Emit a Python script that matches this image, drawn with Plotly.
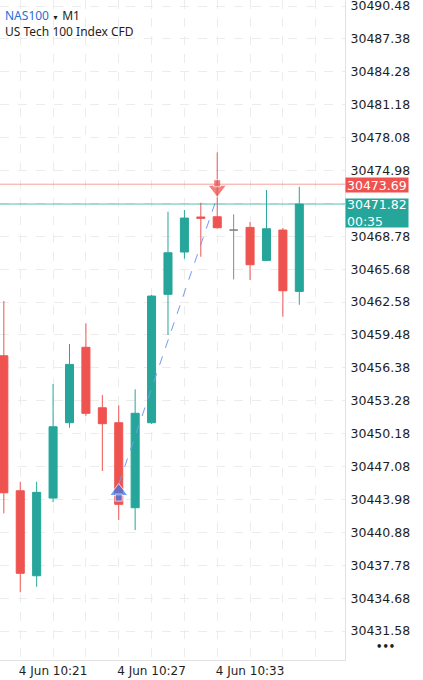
import plotly.graph_objects as go

# ---------------- data ----------------
times = ["2024-06-04 10:%02d" % m for m in range(18, 37)]
opens = [30457.52, 30444.80, 30436.79, 30444.11, 30451.21, 30458.32, 30452.62, 30451.21,
         30443.20, 30451.21, 30463.31, 30467.30, 30470.60, 30470.62, 30469.37, 30469.62,
         30466.51, 30469.37, 30463.59]
highs = [30462.68, 30445.65, 30445.65, 30454.86, 30458.63, 30460.58, 30453.82, 30452.85,
         30454.36, 30463.25, 30471.10, 30471.26, 30471.94, 30476.69, 30470.85, 30470.12,
         30473.14, 30469.56, 30473.45]
lows = [30442.67, 30435.23, 30435.75, 30443.71, 30450.74, 30451.87, 30446.66, 30442.04,
        30441.10, 30451.10, 30459.48, 30466.67, 30466.85, 30469.50, 30464.72, 30464.66,
        30466.45, 30461.20, 30462.33]
closes = [30444.61, 30437.02, 30444.65, 30450.83, 30456.71, 30452.10, 30451.12, 30443.52,
          30452.10, 30463.15, 30467.23, 30470.50, 30470.48, 30469.59, 30469.37, 30466.10,
          30469.49, 30463.65, 30471.82]

y_tick_values = [30431.58, 30434.68, 30437.78, 30440.88, 30443.98, 30447.08, 30450.18,
                 30453.28, 30456.38, 30459.48, 30462.58, 30465.68, 30468.78, 30471.88,
                 30474.98, 30478.08, 30481.18, 30484.28, 30487.38, 30490.48]
x_grid_times = ["2024-06-04 10:%02d" % m for m in range(19, 38, 2)]
x_label_times = {"2024-06-04 10:21": "4 Jun 10:21",
                 "2024-06-04 10:27": "4 Jun 10:27",
                 "2024-06-04 10:33": "4 Jun 10:33"}

ask_price = 30473.69
bid_price = 30471.82
countdown = "00:35"
entry_time, entry_price = "2024-06-04 10:25", 30445.43
exit_time, exit_price = "2024-06-04 10:31", 30472.51

symbol = "NAS100"
timeframe = "M1"
description = "US Tech 100 Index CFD"

# ---------------- styling ----------------
UP = "#26a69a"
DOWN = "#ef5350"
FLAT = "#8a8a8a"
W, H = 423, 680
ML, MR, MT, MB = 0, 78, 0, 20
x_range = ["2024-06-04 10:17:46", "2024-06-04 10:38:47"]
y_range = [30428.85, 30491.05]
plot_h = H - MT - MB
unit_per_px = (y_range[1] - y_range[0]) / plot_h
FONT = "DejaVu Sans"

fig = go.Figure()

# regular candles
idx = [i for i in range(len(times)) if opens[i] != closes[i]]
fig.add_trace(go.Candlestick(
    x=[times[i] for i in idx], open=[opens[i] for i in idx], high=[highs[i] for i in idx],
    low=[lows[i] for i in idx], close=[closes[i] for i in idx],
    increasing=dict(line=dict(color=UP, width=1), fillcolor=UP),
    decreasing=dict(line=dict(color=DOWN, width=1), fillcolor=DOWN),
    whiskerwidth=0, showlegend=False, hoverinfo="skip"))
# unchanged (doji) candles
idx0 = [i for i in range(len(times)) if opens[i] == closes[i]]
fig.add_trace(go.Candlestick(
    x=[times[i] for i in idx0], open=[opens[i] for i in idx0], high=[highs[i] for i in idx0],
    low=[lows[i] for i in idx0], close=[closes[i] for i in idx0],
    increasing=dict(line=dict(color=FLAT, width=1), fillcolor=FLAT),
    decreasing=dict(line=dict(color=FLAT, width=1), fillcolor=FLAT),
    whiskerwidth=0, showlegend=False, hoverinfo="skip"))

# trade connection line
fig.add_trace(go.Scatter(x=[entry_time, exit_time], y=[entry_price, exit_price], mode="lines",
                         line=dict(color="#6f9cf0", width=1, dash="dash"),
                         showlegend=False, hoverinfo="skip"))

# entry arrow (up, blue) : tip at entry price
BLUE = "#2f7bf5"
fig.add_trace(go.Scatter(
    x=[entry_time, entry_time],
    y=[entry_price - 7.5 * unit_per_px, entry_price - 13.5 * unit_per_px],
    mode="markers",
    marker=dict(symbol=["triangle-up", "square"], size=[16, 7], color=BLUE,
                line=dict(color="white", width=1)),
    showlegend=False, hoverinfo="skip"))
# exit arrow (down, red) : tip at exit price
fig.add_trace(go.Scatter(
    x=[exit_time, exit_time],
    y=[exit_price + 7.5 * unit_per_px, exit_price + 13.5 * unit_per_px],
    mode="markers",
    marker=dict(symbol=["triangle-down", "square"], size=[16, 7], color="#ee4a47",
                line=dict(color="white", width=1)),
    showlegend=False, hoverinfo="skip"))

# price lines
fig.add_shape(type="line", xref="paper", x0=0, x1=1, yref="y", y0=ask_price, y1=ask_price,
              line=dict(color="rgba(239,83,80,0.55)", width=1))
fig.add_shape(type="line", xref="paper", x0=0, x1=1, yref="y", y0=bid_price, y1=bid_price,
              line=dict(color="rgba(38,166,154,0.75)", width=1))

# axis tick labels (hide ones covered by price boxes)
y_text = []
for v in y_tick_values:
    covered = abs(v - bid_price) < 1.5 or abs(v - ask_price) < 0.8
    y_text.append("" if covered else "%.2f" % v)

fig.update_layout(
    width=W, height=H, margin=dict(l=ML, r=MR, t=MT, b=MB),
    paper_bgcolor="white", plot_bgcolor="white",
    font=dict(family=FONT, color="#1e1e1e"),
    xaxis=dict(type="date", range=x_range, rangeslider=dict(visible=False),
               tickvals=x_grid_times,
               ticktext=[x_label_times.get(t, "") for t in x_grid_times],
               showgrid=True, gridcolor="#ececec", griddash="dash", gridwidth=1,
               showline=True, linecolor="#e2e2e2", linewidth=1, ticks="",
               tickfont=dict(family=FONT, size=12, color="#1e1e1e"),
               ticklabeloverflow="allow", automargin=False,
               zeroline=False, fixedrange=True),
    yaxis=dict(range=y_range, side="right", tickvals=y_tick_values, ticktext=y_text,
               showgrid=True, gridcolor="#ececec", griddash="dash", gridwidth=1,
               showline=True, linecolor="#e2e2e2", linewidth=1, ticks="",
               tickfont=dict(family=FONT, size=12.5, color="#1e1e1e"),
               ticklabeloverflow="allow", ticklabelstandoff=2, automargin=False,
               zeroline=False, fixedrange=True),
    hovermode=False,
)

# price label boxes
fig.add_annotation(xref="paper", x=1, xanchor="left", xshift=0, yref="y", y=ask_price,
                   yanchor="middle", yshift=-1, text="%.2f" % ask_price, showarrow=False,
                   bgcolor=DOWN, font=dict(family=FONT, size=12.5, color="white"),
                   width=60, height=12, align="left", borderpad=1)
fig.add_annotation(xref="paper", x=1, xanchor="left", xshift=0, yref="y", y=bid_price,
                   yanchor="top", yshift=6, text="%.2f<br>%s" % (bid_price, countdown),
                   showarrow=False, bgcolor=UP,
                   font=dict(family=FONT, size=12.5, color="white"),
                   width=60, height=26, align="left", borderpad=1)

# header
fig.add_annotation(xref="paper", yref="paper", x=0, y=1, xanchor="left", yanchor="middle",
                   xshift=3, yshift=-15, showarrow=False, align="left",
                   text="<span style='color:#1f6fd8'>%s</span> <span style='font-size:7px'>▼</span> %s"
                        % (symbol, timeframe),
                   font=dict(family="Noto Sans", size=12, color="#1e1e1e"))
fig.add_annotation(xref="paper", yref="paper", x=0, y=1, xanchor="left", yanchor="middle",
                   xshift=3, yshift=-31, showarrow=False, align="left", text=description,
                   font=dict(family="Noto Sans", size=12, color="#1e1e1e"))
# menu dots
fig.add_annotation(xref="paper", yref="paper", x=1, y=0, xanchor="center", yanchor="middle",
                   xshift=40, yshift=14, showarrow=False, text="<b>•••</b>",
                   font=dict(family=FONT, size=10, color="#1e1e1e"))

fig.write_html("out.html",
               config={"displayModeBar": False},
               post_script="document.body.style.margin='0px';"
                           "document.body.style.overflow='hidden';")
